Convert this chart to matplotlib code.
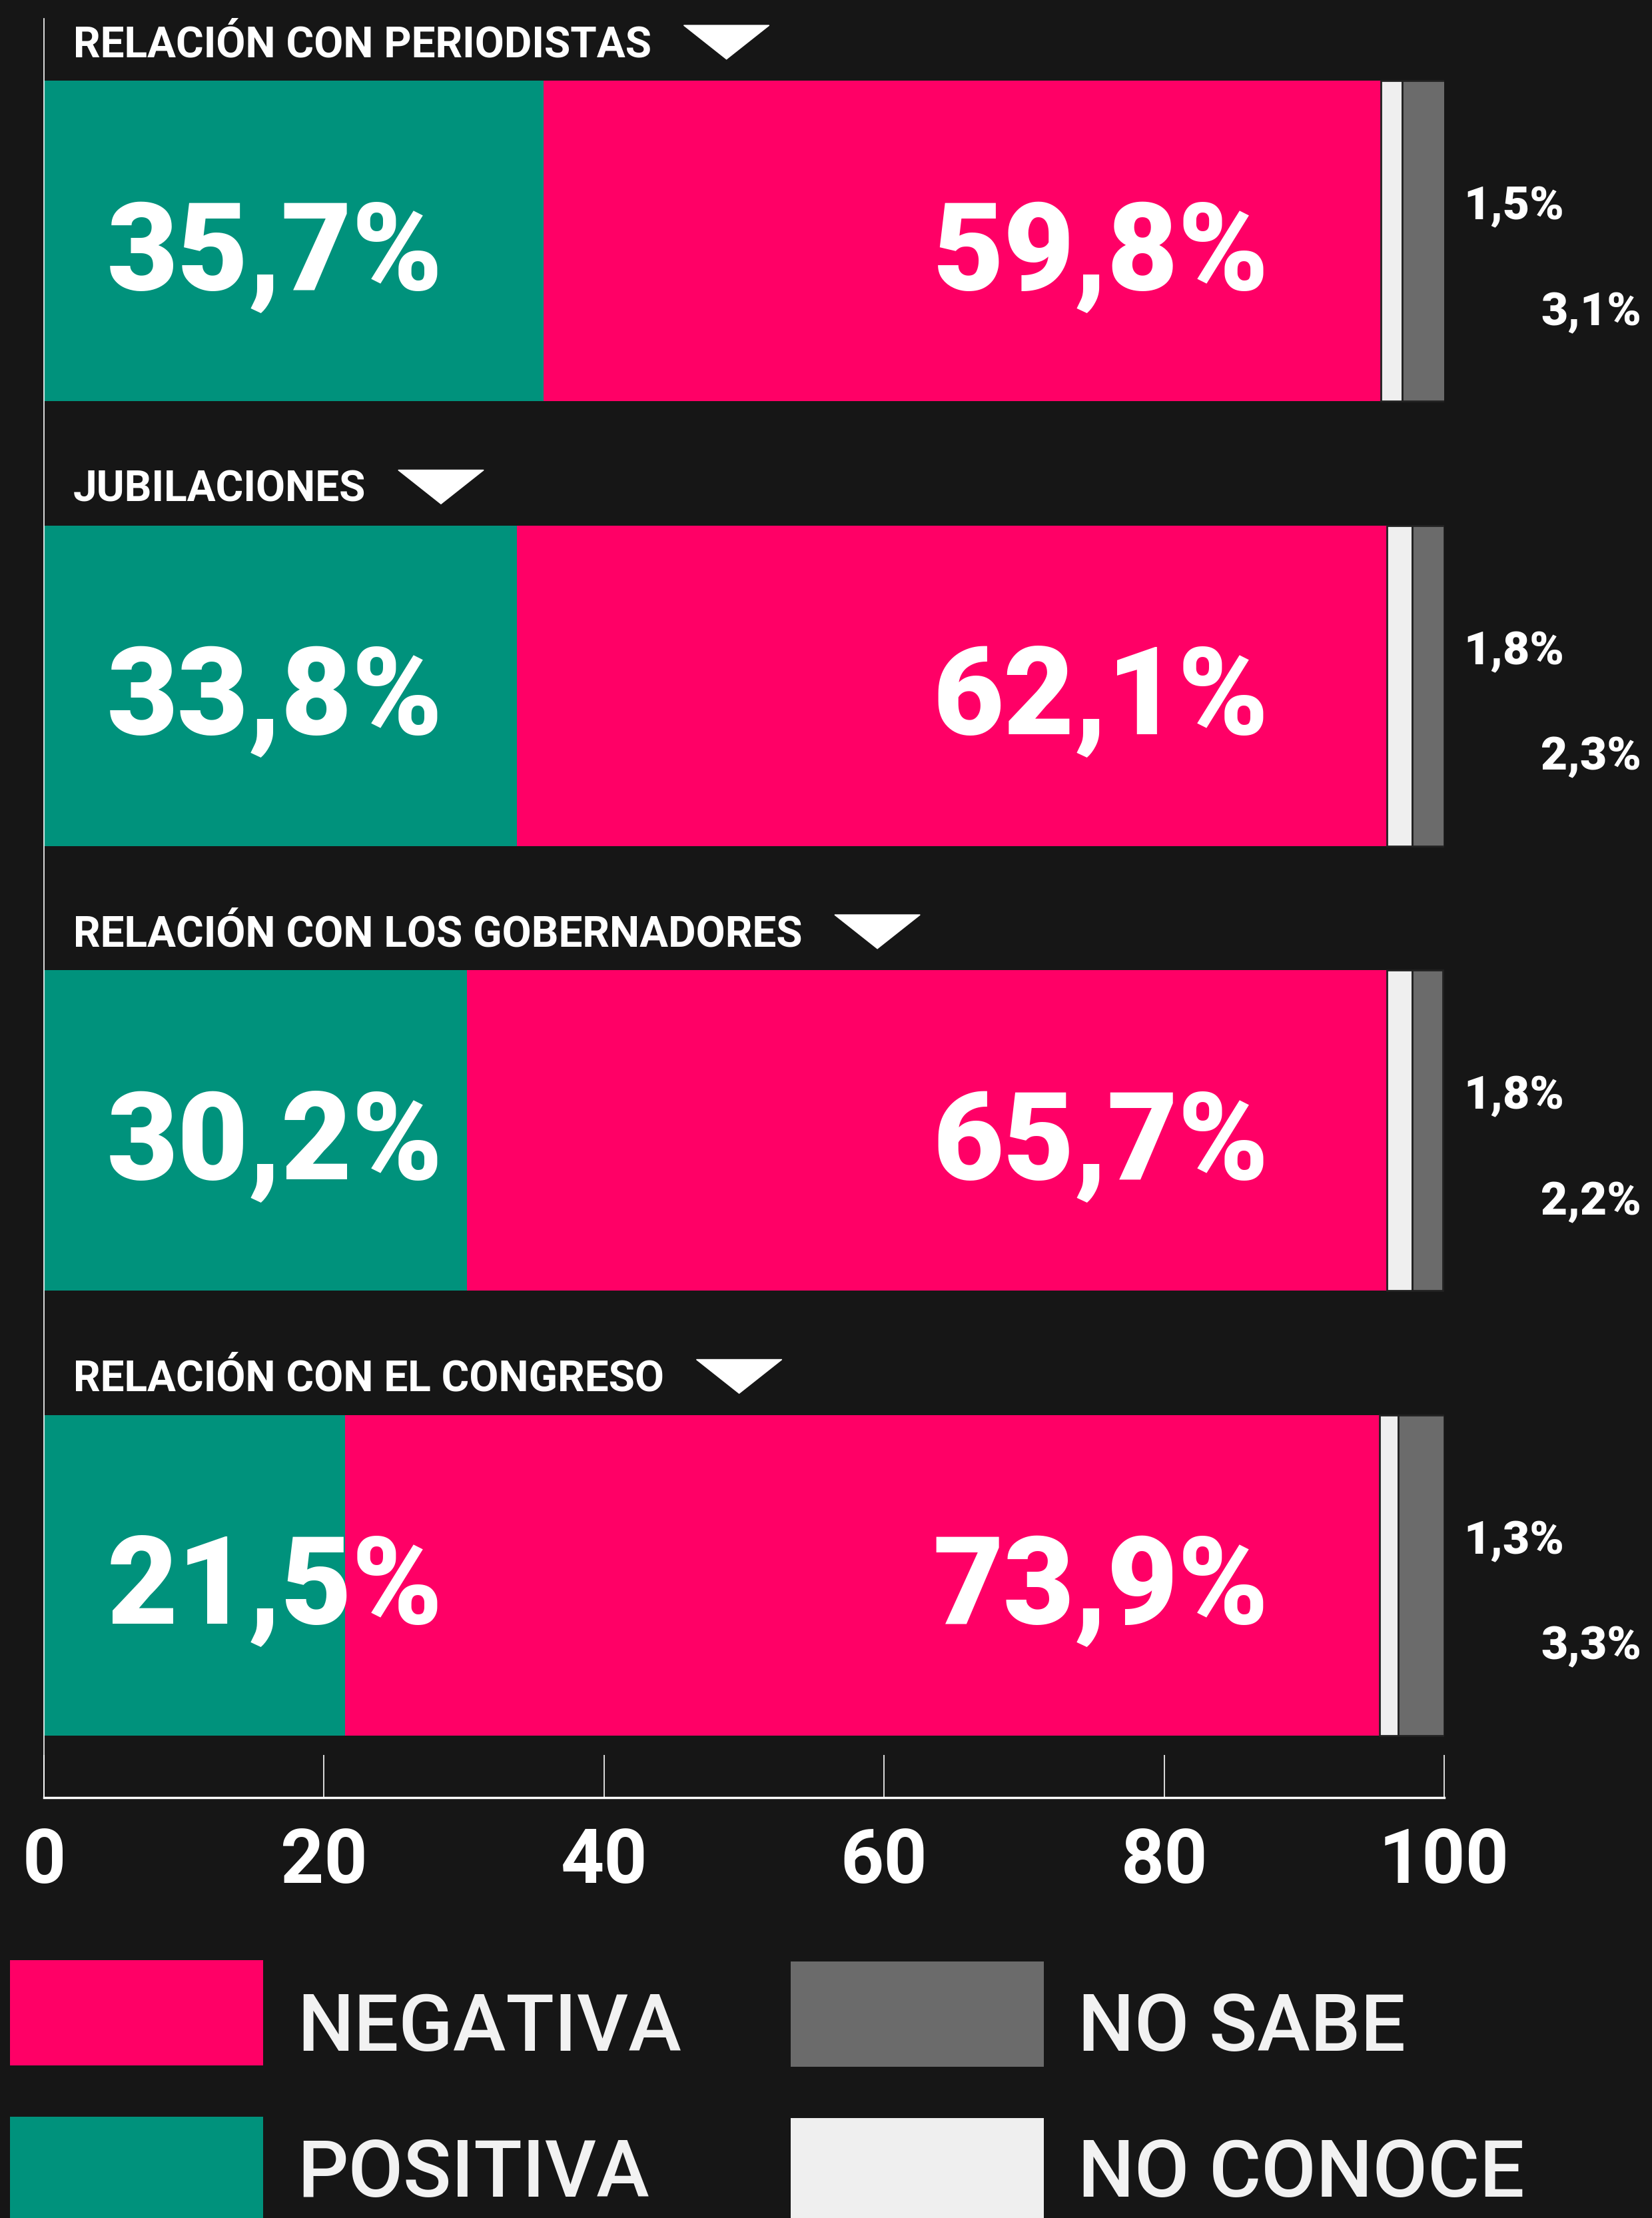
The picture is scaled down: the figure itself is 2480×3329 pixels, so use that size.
import matplotlib
matplotlib.use('Agg')
import matplotlib.pyplot as plt
from matplotlib.patches import Polygon, Rectangle

"""
Stacked horizontal bars: opinion on four topics
(positive / negative / does not know the topic / does not know)
"""

topics = ['RELACIÓN CON PERIODISTAS', 'JUBILACIONES',
          'RELACIÓN CON LOS GOBERNADORES', 'RELACIÓN CON EL CONGRESO']
positiva = [35.7, 33.8, 30.2, 21.5]
negativa = [59.8, 62.1, 65.7, 73.9]
no_conoce = [1.5, 1.8, 1.8, 1.3]
no_sabe = [3.1, 2.3, 2.2, 3.3]
ticks = [0, 20, 40, 60, 80, 100]

BG = '#161616'
TEAL = '#00927c'
PINK = '#ff0066'
WHITE = '#efefef'
GRAY = '#6b6b6b'

W, H = 2480, 3330
FONT = ['Roboto', 'DejaVu Sans']


def fmt(v):
    return '{:.1f}%'.format(v).replace('.', ',')


def fig_xy(x, y):
    # pixel position (from top-left) -> figure fraction
    return x / W, 1 - y / H


def drawBars(ax):
    y = list(range(len(topics)))
    h = 0.72
    ax.barh(y, positiva, height=h, color=TEAL, linewidth=0)
    left = positiva[:]
    ax.barh(y, negativa, left=left, height=h, color=PINK, linewidth=0)
    left = [a + b for a, b in zip(left, negativa)]
    ax.barh(y, no_conoce, left=left, height=h, color=WHITE,
            edgecolor='#222222', linewidth=2)
    left = [a + b for a, b in zip(left, no_conoce)]
    ax.barh(y, no_sabe, left=left, height=h, color=GRAY,
            edgecolor='#222222', linewidth=2)

    for i in y:
        ax.text(4.5, i + 0.108, fmt(positiva[i]), color='white', fontsize=132,
                fontweight='black', family=FONT, va='baseline', ha='left')
        ax.text(63.5, i + 0.108, fmt(negativa[i]), color='white', fontsize=132,
                fontweight='black', family=FONT, va='baseline', ha='left')
        ax.text(101.4, i - 0.05, fmt(no_conoce[i]), color='white', fontsize=50,
                fontweight='black', family=FONT, va='baseline', ha='left')
        ax.text(106.9, i + 0.188, fmt(no_sabe[i]), color='white', fontsize=50,
                fontweight='black', family=FONT, va='baseline', ha='left')


def drawTitles(fig, ax):
    titles = []
    for i, t in enumerate(topics):
        titles.append(ax.text(2.1, i - 0.416, t, color='white', fontsize=46,
                              fontweight='bold', family=FONT, va='baseline'))
    fig.canvas.draw()
    renderer = fig.canvas.get_renderer()
    inv = ax.transData.inverted()
    for i, t in enumerate(titles):
        bb = t.get_window_extent(renderer)
        x_end = inv.transform((bb.x1, bb.y0))[0]
        x0 = x_end + 2.3
        tri = Polygon([(x0, i - 0.485), (x0 + 6.1, i - 0.485), (x0 + 3.05, i - 0.409)],
                      closed=True, color='white', clip_on=False)
        ax.add_patch(tri)


def drawLegend(fig):
    # x, y of the swatch top-left, text baseline (pixels from top)
    items = [(15, 2943, 3078, PINK, 'NEGATIVA'), (1187, 2945, 3078, GRAY, 'NO SABE'),
             (15, 3178, 3297, TEAL, 'POSITIVA'), (1187, 3180, 3297, WHITE, 'NO CONOCE')]
    for x, y, base, c, label in items:
        w, h = 380, 158
        fx, fy = fig_xy(x, y + h)
        fig.add_artist(Rectangle((fx, fy), w / W, h / H, transform=fig.transFigure,
                                 color=c, linewidth=0))
        tx, ty = fig_xy(x + 431, base)
        fig.text(tx, ty, label, color='#f2f2f2', fontsize=86, fontweight='medium',
                 family=FONT, va='baseline', ha='left')


if __name__ == '__main__':
    fig = plt.figure(figsize=(W / 100, H / 100), dpi=100, facecolor=BG)
    l, b = fig_xy(66, 2699)
    r, t = fig_xy(2168, 29)
    ax = fig.add_axes([l, b, r - l, t - b])
    ax.set_facecolor('none')
    ax.set_xlim(0, 100)
    ax.set_ylim(3.5, -0.5)

    drawBars(ax)

    for s in ['top', 'right']:
        ax.spines[s].set_visible(False)
    ax.spines['left'].set_color('white')
    ax.spines['left'].set_linewidth(1.2)
    ax.spines['bottom'].set_color('white')
    ax.spines['bottom'].set_linewidth(2.5)
    ax.set_yticks([])
    ax.set_xticks(ticks)
    ax.set_xticklabels([str(v) for v in ticks], color='white', fontsize=82,
                       fontweight='bold', family=FONT)
    ax.tick_params(axis='x', direction='in', length=46, width=1.2, color='white', pad=30)

    drawTitles(fig, ax)
    drawLegend(fig)

    fig.savefig('out.png', dpi=100, facecolor=BG)
